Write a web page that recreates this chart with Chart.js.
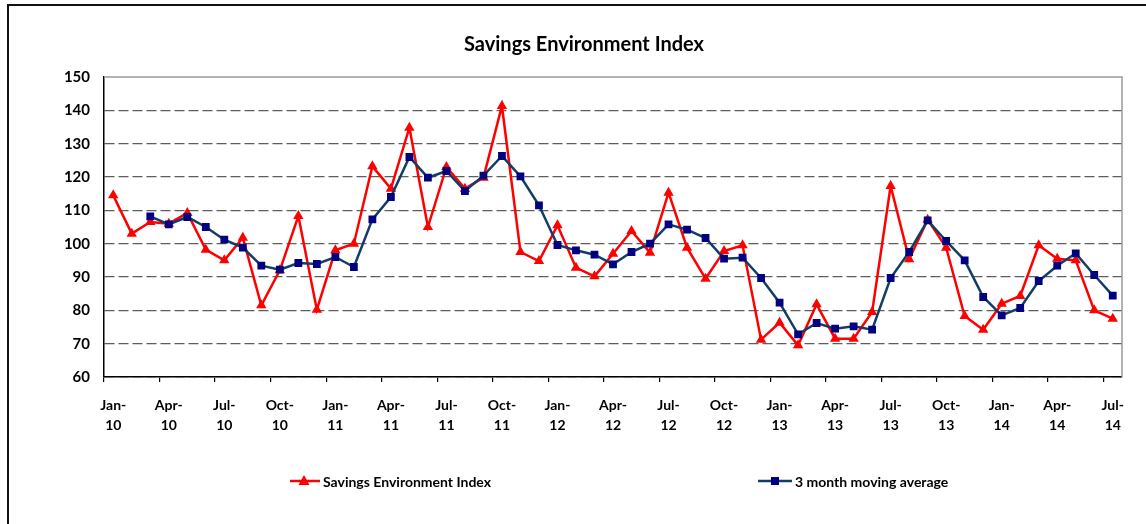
<!DOCTYPE html>
<html>
<head>
<meta charset="utf-8">
<script src="https://cdn.jsdelivr.net/npm/chart.js@4.4.1/dist/chart.umd.min.js"></script>
<style>
  html, body { margin: 0; padding: 0; background: #fff; }
  body { width: 1146px; height: 524px; position: relative; overflow: hidden; font-family: Lato, 'Open Sans', sans-serif; color: #000; }
  #frame { position: absolute; left: 7px; top: 4px; width: 1200px; height: 600px; border-left: 2px solid #111; border-top: 2px solid #111; }
  #wrap { position: absolute; left: 0; top: 0; width: 1146px; height: 524px; }
  #title { position: absolute; top: 32px; left: 0; width: 1168px; text-align: center; font-weight: 700; font-size: 20px; line-height: 22px; }
  .lg { position: absolute; top: 472px; height: 18px; font-size: 14px; font-weight: 700; display: flex; align-items: center; }
  .lg svg { margin-right: 3px; }
</style>
</head>
<body>
<div id="frame"></div>
<div id="wrap"><canvas id="chart" width="1146" height="524"></canvas></div>
<div id="title">Savings Environment Index</div>
<div class="lg" style="left:290px">
  <svg width="30" height="18"><line x1="0" y1="9" x2="30" y2="9" stroke="#ff0000" stroke-width="2.5"/><polygon points="14,3 19.5,13 8.5,13" fill="#ff0000"/></svg>
  <span>Savings Environment Index</span>
</div>
<div class="lg" style="left:758px">
  <svg width="34" height="18"><line x1="0" y1="9" x2="34" y2="9" stroke="#123d66" stroke-width="2.5"/><rect x="13" y="5" width="8" height="8" fill="#000080"/></svg>
  <span>3 month moving average</span>
</div>

<script>
const months = [
  'Jan-10','Feb-10','Mar-10','Apr-10','May-10','Jun-10','Jul-10','Aug-10','Sep-10','Oct-10','Nov-10','Dec-10',
  'Jan-11','Feb-11','Mar-11','Apr-11','May-11','Jun-11','Jul-11','Aug-11','Sep-11','Oct-11','Nov-11','Dec-11',
  'Jan-12','Feb-12','Mar-12','Apr-12','May-12','Jun-12','Jul-12','Aug-12','Sep-12','Oct-12','Nov-12','Dec-12',
  'Jan-13','Feb-13','Mar-13','Apr-13','May-13','Jun-13','Jul-13','Aug-13','Sep-13','Oct-13','Nov-13','Dec-13',
  'Jan-14','Feb-14','Mar-14','Apr-14','May-14','Jun-14','Jul-14'
]

const savingsIndex = [
  114.5, 103, 106.5, 106, 109.2, 98.2, 95, 101.8, 81.5, 92, 108.3, 80.2,
  98, 100, 123.2, 116.5, 134.8, 105, 123, 116.5, 119.8, 141.3, 97.5, 94.8,
  105.5, 92.8, 90.2, 97, 103.8, 97.3, 115.3, 98.8, 89.5, 97.8, 99.5, 71.2,
  76.3, 69.5, 81.8, 71.5, 71.5, 79.5, 117.3, 95.3, 107.2, 98.8, 78.3, 74.2,
  82, 84.3, 99.5, 95.5, 95, 80, 77.5
]

const movingAvg = [
  null, null, 108.2, 105.8, 108, 105, 101.2, 98.8, 93.4, 92.2, 94.2, 93.9,
  96, 93, 107.3, 114, 126, 119.8, 121.8, 115.8, 120.4, 126.3, 120.2, 111.5,
  99.6, 98, 96.7, 93.8, 97.5, 100, 105.8, 104.2, 101.7, 95.5, 95.8, 89.7,
  82.3, 72.8, 76.2, 74.5, 75.2, 74.2, 89.7, 97.5, 107, 100.8, 95, 84,
  78.5, 80.7, 88.8, 93.4, 97.1, 90.6, 84.4
]

const yTicks = { min: 60, max: 150, step: 10 }

// gray frame on the top and right side of the plot
const plotFrame = {
  id: 'plotFrame',
  beforeDatasetsDraw(chart) {
    const { ctx, chartArea: a } = chart
    ctx.save()
    ctx.strokeStyle = '#9a9a9a'
    ctx.lineWidth = 1.5
    ctx.beginPath()
    ctx.moveTo(a.left, a.top)
    ctx.lineTo(a.right, a.top)
    ctx.lineTo(a.right, a.bottom)
    ctx.stroke()
    ctx.restore()
  }
}

const tickFont = { family: 'Lato', weight: 'bold', size: 14 }

new Chart(document.getElementById('chart').getContext('2d'), {
  type: 'line',
  data: {
    labels: months,
    datasets: [
      {
        label: 'Savings Environment Index',
        data: savingsIndex,
        borderColor: '#ff0000',
        backgroundColor: '#ff0000',
        borderWidth: 2.5,
        pointStyle: 'triangle',
        pointRadius: 6,
        pointBorderWidth: 0,
        tension: 0,
        order: 2
      },
      {
        label: '3 month moving average',
        data: movingAvg,
        borderColor: '#123d66',
        backgroundColor: '#000080',
        pointBackgroundColor: '#000080',
        pointBorderColor: '#000080',
        borderWidth: 2.5,
        pointStyle: 'rect',
        pointRadius: 5.5,
        pointBorderWidth: 0,
        tension: 0,
        order: 1
      }
    ]
  },
  options: {
    responsive: false,
    animation: false,
    layout: { padding: { top: 77, right: 24, left: 0, bottom: 0 } },
    plugins: {
      legend: { display: false },
      title: { display: false },
      tooltip: { enabled: false }
    },
    scales: {
      x: {
        offset: true,
        grid: {
          offset: true,
          drawOnChartArea: false,
          tickLength: 5,
          lineWidth: 1.2,
          color: (c) => (c.index !== undefined && c.index % 3 === 0) ? '#000' : 'rgba(0,0,0,0)'
        },
        border: { color: '#000', width: 1.5 },
        ticks: {
          autoSkip: false,
          maxRotation: 0,
          minRotation: 0,
          padding: 13,
          color: '#000',
          font: { ...tickFont, lineHeight: 1.45 },
          callback: function (v, i) {
            if (i % 3 !== 0) return ''
            const parts = months[i].split('-')
            return [parts[0] + '-', parts[1]]
          }
        },
        afterFit: (s) => { s.height = 147 }
      },
      y: {
        min: yTicks.min,
        max: yTicks.max,
        grid: {
          color: (c) => c.tick && c.tick.value === yTicks.max ? 'rgba(0,0,0,0)' : '#5e5e5e',
          lineWidth: 1.3,
          drawTicks: false
        },
        border: { color: '#000', width: 1.5, dash: [10, 4] },
        ticks: {
          stepSize: yTicks.step,
          padding: 14,
          color: '#000',
          font: { ...tickFont, size: 15 }
        },
        afterFit: (s) => { s.width = 104 }
      }
    }
  },
  plugins: [plotFrame]
})
</script>
</body>
</html>
